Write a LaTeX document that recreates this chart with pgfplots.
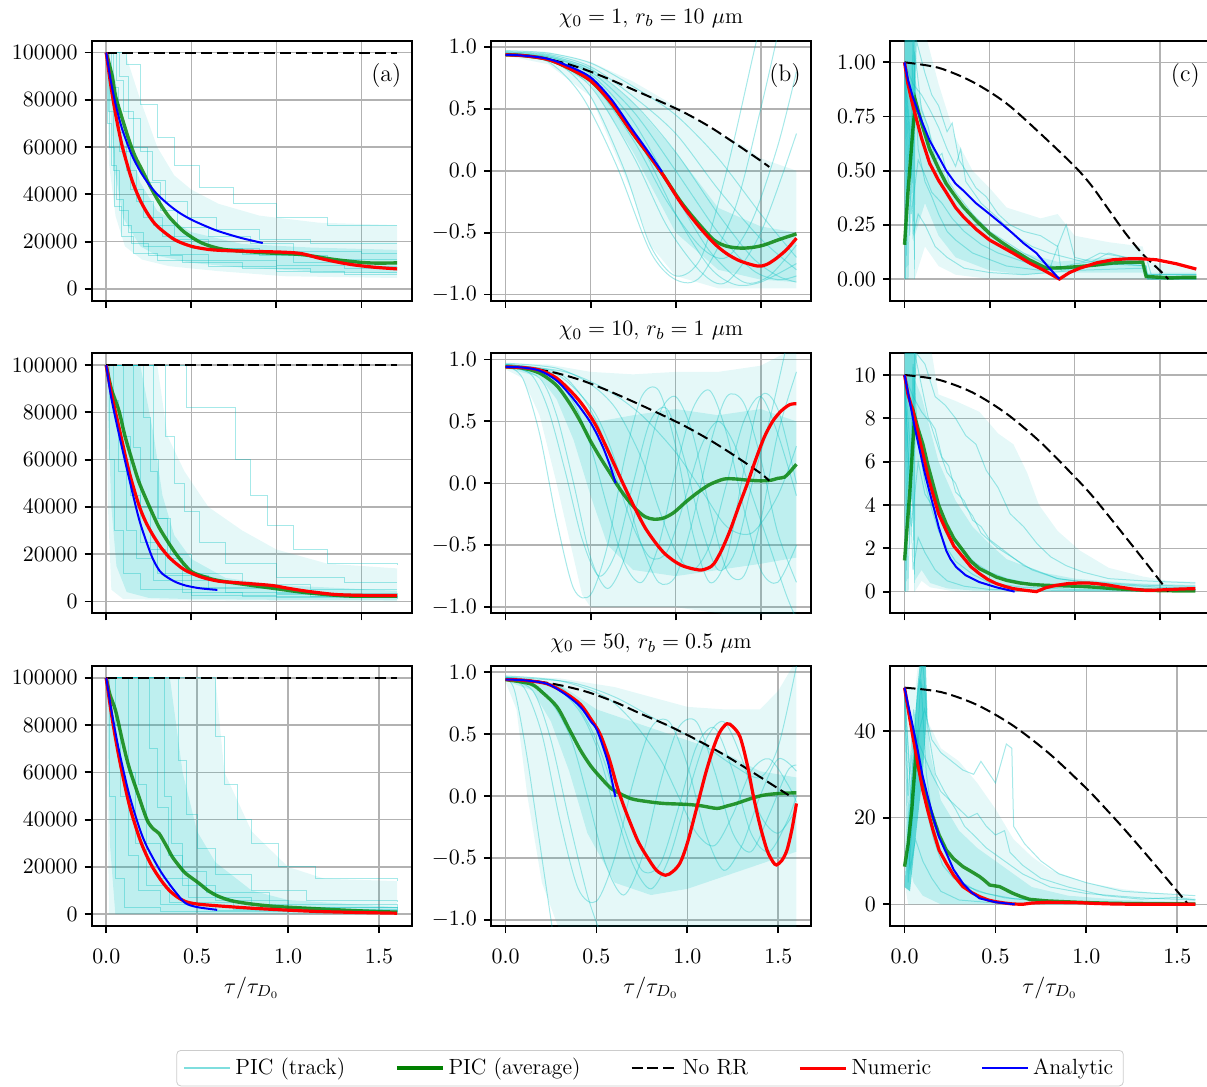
\documentclass[border=0pt]{standalone}
\usepackage{fontspec}
\usepackage{pgfplots}
\pgfplotsset{compat=1.18}
\definecolor{mc}{rgb}{0,0.75,0.75}
\definecolor{mg}{rgb}{0,0.5,0}
\newcommand{\fsz}{\fontsize{11}{13}\selectfont}
\tikzset{plab/.style={anchor=north east, inner sep=0pt, font=\fontsize{12}{14}\selectfont}}
\pgfplotsset{
  base/.style={scale only axis, width=160pt, height=130pt, anchor=north west,
    grid=major, major grid style={line width=0.8pt, draw=black!30},
    axis line style={line width=0.9pt}, tick style={line width=0.9pt, black},
    tick align=outside, tick pos=left, major tick length=3.5pt,
    xtick={0,0.5,1,1.5},
    tick label style={font=\fsz}, label style={font=\fsz},
    title style={font=\fsz, yshift=-3pt}},
  rowAB/.style={xmin=-0.0855, xmax=1.7955, xticklabels={}},
  rowC/.style={xmin=-0.08, xmax=1.68, xticklabel shift=4.5pt,
    xticklabel style={/pgf/number format/.cd,fixed,fixed zerofill,precision=1},
    xlabel={$\tau/\tau_{D_0}$}},
  colA/.style={ymin=-5000, ymax=105000, ytick={0,20000,40000,60000,80000,100000},
    scaled y ticks=false, yticklabel style={/pgf/number format/.cd,fixed,1000 sep={}}},
  colB/.style={ymin=-1.05, ymax=1.05, ytick={-1,-0.5,0,0.5,1},
    yticklabel style={/pgf/number format/.cd,fixed,fixed zerofill,precision=1}},
  trk/.style={mc, opacity=0.35, line width=0.5pt, forget plot},
  bandO/.style={fill=mc, draw=none, opacity=0.10, forget plot},
  bandI/.style={fill=mc, draw=none, opacity=0.17, forget plot},
  spk/.style={fill=mc, draw=none, opacity=0.55, forget plot},
  avg/.style={mg, opacity=0.8, line width=1.7pt, forget plot},
  norr/.style={black, line width=1pt, dash pattern=on 5.5pt off 2.4pt, forget plot},
  num/.style={red, line width=1.6pt, forget plot},
  ana/.style={blue, line width=1pt, forget plot},
}
\begin{document}
\begin{tikzpicture}
\useasboundingbox (0,0) rectangle (603.5pt,-543.5pt);

%================ Row 1 Col 1 ================
\begin{axis}[base, rowAB, colA, at={(45.85pt,-20.35pt)}]
\addplot[bandO] coordinates {(0,100000)(0.11,100000)(0.2,80000)(0.3,60000)(0.4,48000)(0.5,42000)(0.66,36000)(0.9,31000)(1.25,28000)(1.71,27000)(1.71,4600)(1.05,5350)(0.66,7500)(0.37,9600)(0.21,12400)(0.11,18000)(0.055,30700)(0.016,53000)} -- cycle;
\addplot[bandI] coordinates {(0,100000)(0.05,90000)(0.1,70000)(0.2,45000)(0.3,33000)(0.5,24000)(0.8,19000)(1.2,17500)(1.71,16500)(1.71,6500)(1.2,7500)(0.8,9000)(0.5,11000)(0.3,14000)(0.2,18000)(0.1,30000)(0.05,50000)} -- cycle;
\addplot[trk, const plot] coordinates {(0,100000)(0.01,70000)(0.03,52000)(0.06,38000)(0.1,27000)(0.15,19000)(0.25,14000)(0.45,11000)(0.8,8500)(1.2,7000)(1.71,7000)};
\addplot[trk, const plot] coordinates {(0,100000)(0.03,85000)(0.07,66000)(0.12,50000)(0.18,37000)(0.28,27000)(0.4,21000)(0.6,17000)(0.9,14000)(1.3,12500)(1.71,12500)};
\addplot[trk, const plot] coordinates {(0,100000)(0.08,90000)(0.13,72000)(0.2,58000)(0.27,46000)(0.35,37000)(0.48,30000)(0.65,25000)(0.9,21000)(1.2,19000)(1.71,19000)};
\addplot[trk, const plot] coordinates {(0,100000)(0.02,60000)(0.05,35000)(0.09,22000)(0.16,15000)(0.3,12000)(0.6,9500)(1.0,7500)(1.4,6000)(1.71,6000)};
\addplot[trk, const plot] coordinates {(0,100000)(0.12,95000)(0.2,78000)(0.3,64000)(0.4,52000)(0.55,43000)(0.75,36000)(1.0,30000)(1.3,27000)(1.71,27000)};
\addplot[trk, const plot] coordinates {(0,100000)(0.04,78000)(0.08,58000)(0.14,42000)(0.22,30000)(0.33,22000)(0.5,17000)(0.8,14500)(1.1,11000)(1.5,9500)(1.71,9500)};
\addplot[trk, const plot] coordinates {(0,100000)(0.06,88000)(0.1,75000)(0.16,60000)(0.24,45000)(0.32,33000)(0.42,26000)(0.6,22000)(0.85,19000)(1.1,16000)(1.5,15000)(1.71,15000)};
\addplot[trk, const plot] coordinates {(0,100000)(0.015,75000)(0.04,50000)(0.08,33000)(0.13,24000)(0.22,18000)(0.38,14500)(0.6,12000)(1.0,10000)(1.4,8500)(1.71,8500)};
\addplot[avg, smooth] coordinates {(0,100000)(0.035,90000)(0.055,81400)(0.09,73000)(0.133,63100)(0.17,56000)(0.21,50400)(0.25,44500)(0.29,39200)(0.33,34500)(0.367,30700)(0.415,27000)(0.465,23700)(0.5625,19400)(0.7,16600)(0.953,15200)(1.15,14500)(1.344,12400)(1.54,11000)(1.71,11000)};
\addplot[norr] coordinates {(0,100000)(1.71,100000)};
\addplot[num, smooth] coordinates {(0,100000)(0.025,86950)(0.05,75900)(0.075,66550)(0.1,58640)(0.15,46270)(0.2,37400)(0.25,31060)(0.3,26500)(0.4,20900)(0.5,18030)(0.6,16700)(0.7,16200)(0.855,15900)(1.05,15500)(1.15,14900)(1.246,13100)(1.34,11600)(1.44,10300)(1.57,9200)(1.71,8450)};
\addplot[ana, smooth] coordinates {(0,100000)(0.025,88700)(0.05,79700)(0.075,72300)(0.1,66200)(0.15,56700)(0.2,49700)(0.25,44300)(0.3,40000)(0.367,35600)(0.43,32200)(0.5,29300)(0.58,26700)(0.66,24400)(0.79,21600)(0.92,19400)};
\node[plab] at (rel axis cs:0.969,0.915) {(a)};
\end{axis}

%================ Row 1 Col 2 ================
\begin{axis}[base, rowAB, colB, at={(245.5pt,-20.35pt)}, title={$\chi_0 = 1$, $r_b = 10\ \mu$m}]
\addplot[bandO] coordinates {(0,0.97)(0.25,0.96)(0.5,0.88)(0.75,0.72)(1.0,0.52)(1.25,0.3)(1.4,0.2)(1.5,0.1)(1.71,0.0)(1.71,-0.95)(1.5,-0.95)(1.25,-0.95)(1.0,-0.85)(0.85,-0.6)(0.75,-0.2)(0.5,0.6)(0.25,0.86)(0,0.93)} -- cycle;
\addplot[bandI] coordinates {(0,0.96)(0.25,0.94)(0.5,0.84)(0.75,0.55)(1.0,0.15)(1.25,-0.3)(1.5,-0.45)(1.71,-0.5)(1.71,-0.9)(1.5,-0.88)(1.25,-0.8)(1.0,-0.5)(0.75,0.15)(0.5,0.7)(0.25,0.9)(0,0.94)} -- cycle;
\addplot[trk, smooth] coordinates {(0,0.95)(0.25,0.88)(0.45,0.6)(0.65,0.05)(0.85,-0.65)(1.0,-0.88)(1.15,-0.85)(1.35,-0.3)(1.5,0.5)(1.6,1.1)};
\addplot[trk, smooth] coordinates {(0,0.94)(0.25,0.9)(0.5,0.68)(0.75,0.12)(0.95,-0.45)(1.15,-0.82)(1.3,-0.9)(1.5,-0.5)(1.71,0.3)};
\addplot[trk, smooth] coordinates {(0,0.95)(0.25,0.92)(0.5,0.78)(0.75,0.4)(1.0,-0.2)(1.2,-0.65)(1.4,-0.9)(1.55,-0.85)(1.71,-0.6)};
\addplot[trk, smooth] coordinates {(0,0.96)(0.25,0.93)(0.5,0.82)(0.75,0.55)(1.0,0.15)(1.25,-0.35)(1.45,-0.7)(1.6,-0.85)(1.71,-0.9)};
\addplot[trk, smooth] coordinates {(0,0.97)(0.25,0.95)(0.5,0.87)(0.75,0.68)(1.0,0.45)(1.25,0.1)(1.5,-0.35)(1.71,-0.7)};
\addplot[trk, smooth] coordinates {(0,0.93)(0.25,0.89)(0.5,0.72)(0.75,0.25)(0.95,-0.25)(1.15,-0.62)(1.3,-0.7)(1.45,-0.4)(1.6,0.2)(1.71,0.8)};
\addplot[trk, smooth] coordinates {(0,0.95)(0.25,0.91)(0.5,0.75)(0.75,0.33)(1.0,-0.35)(1.2,-0.78)(1.35,-0.92)(1.5,-0.9)(1.71,-0.75)};
\addplot[trk, smooth] coordinates {(0,0.94)(0.25,0.92)(0.5,0.8)(0.75,0.48)(1.0,0.0)(1.25,-0.5)(1.45,-0.8)(1.6,-0.88)(1.71,-0.85)};
\addplot[trk, smooth] coordinates {(0,0.95)(0.3,0.87)(0.5,0.6)(0.7,0.0)(0.85,-0.6)(1.0,-0.85)(1.15,-0.7)(1.3,0.0)(1.45,0.9)(1.5,1.2)};
\addplot[trk, smooth] coordinates {(0,0.96)(0.25,0.94)(0.5,0.84)(0.75,0.6)(1.0,0.3)(1.25,-0.15)(1.5,-0.55)(1.71,-0.8)};
\addplot[avg, smooth] coordinates {(0,0.936)(0.1,0.93)(0.245,0.90)(0.37,0.83)(0.5,0.727)(0.62,0.55)(0.735,0.325)(0.83,0.15)(0.92,-0.023)(1.03,-0.25)(1.13,-0.42)(1.225,-0.56)(1.3,-0.61)(1.38,-0.625)(1.45,-0.62)(1.52,-0.6)(1.6,-0.56)(1.71,-0.51)};
\addplot[norr, smooth] coordinates {(0,0.936)(0.15,0.925)(0.3,0.886)(0.45,0.825)(0.6,0.745)(0.75,0.655)(0.9,0.565)(1.05,0.47)(1.2,0.355)(1.35,0.22)(1.5,0.08)(1.55,0.03)};
\addplot[num, smooth] coordinates {(0,0.936)(0.1,0.93)(0.245,0.90)(0.37,0.83)(0.5,0.727)(0.62,0.55)(0.735,0.325)(0.83,0.15)(0.92,-0.023)(1.03,-0.26)(1.13,-0.44)(1.225,-0.585)(1.3,-0.67)(1.38,-0.73)(1.48,-0.77)(1.53,-0.76)(1.58,-0.72)(1.65,-0.64)(1.71,-0.545)};
\addplot[ana, smooth] coordinates {(0,0.936)(0.1,0.93)(0.245,0.905)(0.37,0.845)(0.5,0.754)(0.62,0.58)(0.735,0.352)(0.83,0.17)(0.92,-0.01)};
\node[plab] at (rel axis cs:0.969,0.915) {(b)};
\end{axis}

%================ Row 1 Col 3 ================
\begin{axis}[base, rowAB, at={(445pt,-20.35pt)}, ymin=-0.1, ymax=1.1, ytick={0,0.25,0.5,0.75,1},
  yticklabel style={/pgf/number format/.cd,fixed,fixed zerofill,precision=2}]
\addplot[bandO] coordinates {(0,1.2)(0.1,1.2)(0.2,0.9)(0.3,0.65)(0.4,0.5)(0.5,0.42)(0.6,0.33)(0.8,0.28)(0.9,0.3)(1.0,0.2)(1.2,0.17)(1.4,0.15)(1.42,0.08)(1.715,0.05)(1.715,0.0)(0.5,0.0)(0.3,0.02)(0.2,0.06)(0.12,0.15)(0.06,0.0)(0,0.0)} -- cycle;
\addplot[bandI] coordinates {(0.04,1.0)(0.1,0.8)(0.2,0.55)(0.3,0.38)(0.4,0.28)(0.5,0.2)(0.7,0.12)(0.9,0.08)(1.2,0.1)(1.4,0.1)(1.42,0.03)(1.715,0.03)(1.715,0.0)(1.42,0.0)(1.4,0.03)(0.9,0.03)(0.7,0.02)(0.5,0.04)(0.3,0.1)(0.2,0.2)(0.12,0.35)(0.06,0.2)} -- cycle;
\addplot[spk] coordinates {(0,0)(0,1.2)(0.065,1.2)(0.06,0.0)(0.045,0.45)(0.025,0.55)(0.01,0.0)} -- cycle;
\addplot[trk] coordinates {(0,1)(0.03,0.2)(0.06,1.05)(0.1,0.78)(0.14,0.7)(0.18,0.55)(0.22,0.58)(0.26,0.45)(0.3,0.4)(0.35,0.35)(0.4,0.3)(0.45,0.26)(0.5,0.22)(0.6,0.17)(0.7,0.12)(0.8,0.08)(0.9,0.05)(1.0,0.07)(1.2,0.09)(1.4,0.08)(1.42,0.01)(1.715,0.01)};
\addplot[trk] coordinates {(0,1)(0.02,0.0)(0.05,1.1)(0.08,0.6)(0.12,0.45)(0.16,0.38)(0.2,0.3)(0.25,0.22)(0.3,0.18)(0.4,0.12)(0.5,0.09)(0.6,0.06)(0.8,0.04)(1.0,0.05)(1.2,0.07)(1.42,0.06)(1.43,0.0)(1.715,0.0)};
\addplot[trk] coordinates {(0,1)(0.04,0.5)(0.07,1.1)(0.12,0.95)(0.16,0.85)(0.2,0.8)(0.25,0.68)(0.28,0.72)(0.32,0.55)(0.36,0.5)(0.42,0.42)(0.48,0.38)(0.55,0.3)(0.62,0.25)(0.7,0.22)(0.8,0.2)(0.9,0.15)(0.95,0.25)(1.0,0.1)(1.1,0.08)(1.2,0.12)(1.3,0.1)(1.4,0.09)(1.42,0.02)(1.715,0.02)};
\addplot[trk] coordinates {(0,1)(0.03,0.7)(0.05,0.2)(0.08,0.3)(0.12,0.25)(0.18,0.15)(0.25,0.1)(0.35,0.05)(0.5,0.03)(0.7,0.02)(1.0,0.04)(1.4,0.05)(1.45,0.0)(1.715,0.0)};
\addplot[trk] coordinates {(0,1)(0.05,0.9)(0.1,0.85)(0.15,0.78)(0.2,0.7)(0.25,0.6)(0.3,0.52)(0.33,0.6)(0.36,0.45)(0.45,0.35)(0.55,0.28)(0.65,0.2)(0.75,0.15)(0.85,0.12)(0.95,0.1)(1.05,0.08)(1.15,0.12)(1.3,0.1)(1.42,0.1)(1.45,0.02)(1.715,0.02)};
\addplot[trk] coordinates {(0,1)(0.04,0.3)(0.08,0.55)(0.12,0.48)(0.16,0.4)(0.22,0.35)(0.28,0.28)(0.35,0.22)(0.45,0.16)(0.55,0.12)(0.7,0.08)(0.85,0.04)(0.9,0.15)(0.92,0.04)(1.1,0.06)(1.3,0.07)(1.42,0.06)(1.43,0.0)(1.715,0.01)};
\addplot[avg] coordinates {(0,0.158)(0.02,0.4)(0.049,0.69)(0.065,0.82)(0.1,0.72)(0.147,0.60)(0.2,0.51)(0.245,0.44)(0.3,0.38)(0.343,0.335)(0.42,0.27)(0.5,0.21)(0.57,0.17)(0.637,0.135)(0.73,0.09)(0.833,0.05)(0.93,0.052)(1.03,0.058)(1.13,0.065)(1.225,0.074)(1.32,0.077)(1.40,0.078)(1.42,0.012)(1.5,0.008)(1.56,0.005)(1.65,0.008)(1.715,0.008)};
\addplot[norr, smooth] coordinates {(0,1)(0.2,0.975)(0.4,0.91)(0.6,0.81)(0.8,0.67)(1.0,0.52)(1.1,0.43)(1.2,0.32)(1.3,0.21)(1.4,0.115)(1.5,0.04)(1.55,0.0)};
\addplot[num] coordinates {(0,1)(0.02,0.9)(0.049,0.80)(0.1,0.65)(0.147,0.535)(0.2,0.455)(0.245,0.40)(0.3,0.33)(0.343,0.29)(0.42,0.23)(0.5,0.18)(0.637,0.12)(0.735,0.074)(0.82,0.04)(0.91,0.0)(0.97,0.03)(1.03,0.05)(1.13,0.075)(1.225,0.089)(1.3,0.093)(1.38,0.094)(1.48,0.089)(1.6,0.07)(1.715,0.046)};
\addplot[ana] coordinates {(0,1)(0.02,0.92)(0.049,0.84)(0.1,0.73)(0.147,0.64)(0.2,0.565)(0.245,0.50)(0.3,0.44)(0.343,0.41)(0.42,0.35)(0.5,0.30)(0.57,0.255)(0.637,0.21)(0.7,0.165)(0.775,0.12)(0.84,0.06)(0.91,0.0)};
\node[plab] at (rel axis cs:0.969,0.915) {(c)};
\end{axis}

%================ Row 2 Col 1 ================
\begin{axis}[base, rowAB, colA, at={(45.85pt,-176.65pt)}]
\addplot[bandO] coordinates {(0,100000)(0.3,100000)(0.36,70000)(0.46,55000)(0.6,40000)(0.8,30000)(1.0,22000)(1.3,16000)(1.71,14000)(1.71,0)(0.5,500)(0.1,1000)(0.03,5000)(0.01,40000)} -- cycle;
\addplot[bandI] coordinates {(0,100000)(0.2,100000)(0.28,70000)(0.33,45000)(0.4,28000)(0.5,18000)(0.7,10000)(1.0,7000)(1.71,4500)(1.71,500)(1.0,700)(0.5,1000)(0.25,1500)(0.12,4000)(0.06,15000)(0.03,40000)(0.01,80000)} -- cycle;
\addplot[trk, const plot] coordinates {(0,100000)(0.02,60000)(0.05,30000)(0.1,12000)(0.2,5000)(0.5,2500)(1.0,1500)(1.71,1500)};
\addplot[trk, const plot] coordinates {(0,100000)(0.08,100000)(0.1,70000)(0.14,45000)(0.2,25000)(0.3,12000)(0.5,6000)(1.0,3000)(1.71,2500)};
\addplot[trk, const plot] coordinates {(0,100000)(0.2,100000)(0.22,78000)(0.26,55000)(0.3,35000)(0.38,20000)(0.5,12000)(0.8,7000)(1.2,5000)(1.71,5000)};
\addplot[trk, const plot] coordinates {(0,100000)(0.33,100000)(0.35,70000)(0.4,50000)(0.46,38000)(0.55,25000)(0.7,16000)(1.0,10000)(1.4,8000)(1.71,8000)};
\addplot[trk, const plot] coordinates {(0,100000)(0.46,100000)(0.47,82000)(0.74,82000)(0.76,60000)(0.85,45000)(0.95,32000)(1.1,22000)(1.3,16000)(1.71,15500)};
\addplot[trk, const plot] coordinates {(0,100000)(0.04,85000)(0.07,55000)(0.12,30000)(0.18,18000)(0.28,9000)(0.45,4000)(0.8,2000)(1.71,1200)};
\addplot[trk, const plot] coordinates {(0,100000)(0.14,100000)(0.16,65000)(0.2,40000)(0.26,22000)(0.35,11000)(0.6,5500)(1.0,3500)(1.71,3000)};
\addplot[trk, const plot] coordinates {(0,100000)(0.26,100000)(0.28,60000)(0.31,35000)(0.36,18000)(0.45,9000)(0.7,4000)(1.2,2000)(1.71,1800)};
\addplot[avg, smooth] coordinates {(0,100000)(0.03,90000)(0.075,80600)(0.11,70000)(0.153,59500)(0.19,51000)(0.23,44000)(0.27,37500)(0.31,31400)(0.36,25500)(0.41,20100)(0.46,15600)(0.506,12400)(0.58,10400)(0.66,8860)(0.86,6750)(1.0,5400)(1.15,3940)(1.3,2900)(1.45,2250)(1.71,2250)};
\addplot[norr] coordinates {(0,100000)(1.71,100000)};
\addplot[num, smooth] coordinates {(0,100000)(0.03,88000)(0.075,73600)(0.133,55300)(0.19,41200)(0.23,34000)(0.27,28600)(0.32,23000)(0.37,18700)(0.42,15500)(0.467,13100)(0.56,10300)(0.66,8600)(0.76,8000)(0.86,7450)(0.976,6750)(1.06,5700)(1.15,4640)(1.25,3700)(1.35,2950)(1.5,2600)(1.71,2530)};
\addplot[ana, smooth] coordinates {(0,100000)(0.03,86000)(0.075,70700)(0.133,52500)(0.19,35600)(0.23,26500)(0.27,18700)(0.3,14500)(0.33,11700)(0.4,8500)(0.467,6750)(0.55,5600)(0.653,4900)};
\end{axis}

%================ Row 2 Col 2 ================
\begin{axis}[base, rowAB, colB, at={(245.5pt,-176.65pt)}, title={$\chi_0 = 10$, $r_b = 1\ \mu$m}]
\addplot[bandO] coordinates {(0,0.97)(0.25,0.96)(0.5,0.9)(0.75,0.88)(1.0,0.9)(1.25,0.9)(1.5,0.95)(1.71,1.1)(1.71,-1.1)(1.5,-1.1)(1.0,-1.0)(0.5,-1.0)(0.45,-0.9)(0.4,-0.6)(0.3,0.0)(0.2,0.55)(0.1,0.85)(0,0.92)} -- cycle;
\addplot[bandI] coordinates {(0,0.96)(0.25,0.92)(0.4,0.72)(0.55,0.5)(0.75,0.55)(1.0,0.6)(1.25,0.55)(1.5,0.6)(1.71,0.5)(1.71,-0.6)(1.5,-0.65)(1.25,-0.7)(1.0,-0.75)(0.75,-0.7)(0.6,-0.5)(0.5,-0.1)(0.4,0.35)(0.3,0.68)(0.2,0.86)(0,0.93)} -- cycle;
\addplot[trk, smooth] coordinates {(0,0.95)(0.1,0.85)(0.2,0.4)(0.3,-0.3)(0.4,-0.85)(0.5,-0.9)(0.6,-0.5)(0.7,0.2)(0.8,0.7)(0.9,0.75)(1.0,0.3)(1.1,-0.4)(1.2,-0.8)(1.3,-0.6)(1.4,0.1)(1.5,0.7)(1.6,0.6)(1.71,0.0)};
\addplot[trk, smooth] coordinates {(0,0.95)(0.2,0.85)(0.3,0.55)(0.4,0.0)(0.5,-0.6)(0.6,-0.85)(0.7,-0.6)(0.8,0.0)(0.9,0.55)(1.0,0.7)(1.1,0.4)(1.2,-0.2)(1.3,-0.7)(1.4,-0.75)(1.5,-0.3)(1.6,0.4)(1.71,0.9)};
\addplot[trk, smooth] coordinates {(0,0.96)(0.25,0.9)(0.4,0.65)(0.5,0.3)(0.6,-0.2)(0.7,-0.65)(0.8,-0.8)(0.9,-0.5)(1.0,0.1)(1.1,0.6)(1.2,0.75)(1.3,0.4)(1.4,-0.2)(1.5,-0.7)(1.6,-0.8)(1.71,-0.5)};
\addplot[trk, smooth] coordinates {(0,0.96)(0.3,0.88)(0.5,0.62)(0.6,0.35)(0.7,-0.05)(0.8,-0.5)(0.9,-0.8)(1.0,-0.75)(1.1,-0.3)(1.2,0.3)(1.3,0.7)(1.4,0.65)(1.5,0.2)(1.6,-0.4)(1.71,-0.8)};
\addplot[trk, smooth] coordinates {(0,0.97)(0.3,0.93)(0.5,0.8)(0.65,0.6)(0.8,0.2)(0.9,-0.2)(1.0,-0.55)(1.1,-0.7)(1.2,-0.5)(1.3,0.0)(1.4,0.5)(1.5,0.7)(1.6,0.4)(1.71,-0.1)};
\addplot[trk, smooth] coordinates {(0,0.95)(0.15,0.88)(0.25,0.6)(0.35,0.1)(0.45,-0.45)(0.55,-0.75)(0.65,-0.55)(0.75,0.0)(0.85,0.5)(0.95,0.6)(1.05,0.2)(1.15,-0.35)(1.25,-0.7)(1.35,-0.55)(1.45,0.0)(1.55,0.5)(1.65,1.1)};
\addplot[trk, smooth] coordinates {(0,0.96)(0.3,0.9)(0.45,0.7)(0.55,0.45)(0.65,0.05)(0.75,-0.35)(0.85,-0.6)(0.95,-0.55)(1.05,-0.15)(1.15,0.3)(1.25,0.5)(1.35,0.3)(1.45,-0.1)(1.55,-0.5)(1.65,-0.9)(1.71,-1.1)};
\addplot[trk, smooth] coordinates {(0,0.96)(0.35,0.9)(0.6,0.75)(0.8,0.55)(1.0,0.25)(1.15,-0.05)(1.3,-0.35)(1.45,-0.4)(1.6,-0.1)(1.71,0.3)};
\addplot[avg, smooth] coordinates {(0,0.94)(0.1,0.93)(0.2,0.89)(0.3,0.79)(0.38,0.64)(0.44,0.5)(0.5,0.34)(0.56,0.2)(0.62,0.07)(0.65,0.0)(0.7,-0.1)(0.76,-0.2)(0.82,-0.27)(0.873,-0.29)(0.93,-0.28)(0.99,-0.235)(1.06,-0.15)(1.13,-0.074)(1.2,-0.01)(1.284,0.034)(1.35,0.035)(1.42,0.026)(1.5,0.02)(1.56,0.025)(1.6,0.04)(1.64,0.05)(1.67,0.09)(1.71,0.154)};
\addplot[norr, smooth] coordinates {(0,0.94)(0.15,0.928)(0.3,0.89)(0.45,0.83)(0.6,0.75)(0.75,0.66)(0.9,0.565)(1.05,0.465)(1.2,0.35)(1.35,0.22)(1.5,0.08)(1.55,0.02)};
\addplot[num, smooth] coordinates {(0,0.94)(0.1,0.935)(0.2,0.915)(0.3,0.85)(0.4,0.72)(0.46,0.62)(0.53,0.47)(0.6,0.27)(0.69,0.0)(0.76,-0.2)(0.83,-0.38)(0.93,-0.56)(1.03,-0.66)(1.137,-0.70)(1.19,-0.685)(1.225,-0.65)(1.27,-0.54)(1.32,-0.38)(1.37,-0.19)(1.42,-0.007)(1.47,0.19)(1.52,0.37)(1.57,0.5)(1.62,0.584)(1.67,0.635)(1.71,0.643)};
\addplot[ana, smooth] coordinates {(0,0.94)(0.1,0.935)(0.2,0.91)(0.3,0.83)(0.4,0.68)(0.5,0.49)(0.57,0.3)(0.62,0.12)(0.647,0.0)};
\end{axis}

%================ Row 2 Col 3 ================
\begin{axis}[base, rowAB, at={(445pt,-176.65pt)}, ymin=-1, ymax=11, ytick={0,2,4,6,8,10}]
\addplot[bandO] coordinates {(0.06,11.5)(0.15,11.5)(0.2,9.1)(0.3,8.8)(0.44,8.3)(0.55,7.3)(0.64,6.8)(0.72,5.5)(0.79,4.0)(0.9,2.8)(1.03,1.9)(1.2,1.1)(1.4,0.7)(1.55,0.5)(1.71,0.45)(1.71,0)(0.3,0)(0.15,0.2)(0.1,0.5)(0.06,0)} -- cycle;
\addplot[bandI] coordinates {(0.05,10)(0.1,9)(0.15,7.5)(0.2,6)(0.3,4.2)(0.4,3)(0.5,2.2)(0.6,1.5)(0.8,0.9)(1.0,0.6)(1.3,0.4)(1.71,0.3)(1.71,0.0)(0.8,0.0)(0.4,0.05)(0.25,0.15)(0.15,0.4)(0.1,1.0)(0.06,0.5)} -- cycle;
\addplot[spk] coordinates {(0,0)(0,11.5)(0.065,11.5)(0.06,0.0)(0.045,4)(0.025,5)(0.01,0)} -- cycle;
\addplot[trk] coordinates {(0,10)(0.03,2)(0.06,11)(0.1,9.5)(0.14,8)(0.18,7.5)(0.22,6.2)(0.26,5.8)(0.3,4.6)(0.35,4.2)(0.4,3.3)(0.45,3.0)(0.5,2.4)(0.6,1.8)(0.7,1.2)(0.8,0.9)(0.9,0.6)(1.0,0.5)(1.2,0.4)(1.4,0.3)(1.71,0.25)};
\addplot[trk] coordinates {(0,10)(0.02,0)(0.05,10.5)(0.08,7)(0.12,5)(0.16,3.8)(0.2,2.8)(0.25,2.0)(0.3,1.4)(0.4,0.8)(0.5,0.4)(0.7,0.2)(1.0,0.1)(1.4,0.1)(1.71,0.1)};
\addplot[trk] coordinates {(0,10)(0.04,6)(0.07,11)(0.12,10.5)(0.18,9.0)(0.24,8.6)(0.3,8.0)(0.36,7.2)(0.42,6.8)(0.48,5.6)(0.55,4.8)(0.62,3.6)(0.7,3.0)(0.78,2.2)(0.86,1.6)(0.95,1.2)(1.05,0.9)(1.2,0.6)(1.4,0.5)(1.55,0.45)(1.71,0.4)};
\addplot[trk] coordinates {(0,10)(0.03,5)(0.05,1)(0.08,2.5)(0.12,1.8)(0.18,1.0)(0.25,0.5)(0.35,0.25)(0.5,0.1)(1.0,0.05)(1.71,0.05)};
\addplot[trk] coordinates {(0,10)(0.05,9)(0.1,8.3)(0.15,7.8)(0.2,6.6)(0.25,5.5)(0.3,5.0)(0.35,4.0)(0.4,3.5)(0.45,2.7)(0.55,2.0)(0.65,1.5)(0.75,1.0)(0.9,0.6)(1.1,0.4)(1.3,0.3)(1.5,0.2)(1.71,0.2)};
\addplot[trk] coordinates {(0,10)(0.04,3)(0.08,6)(0.12,4.5)(0.16,4.0)(0.2,3.5)(0.25,2.6)(0.3,2.3)(0.35,1.8)(0.42,1.3)(0.5,0.9)(0.6,0.6)(0.75,0.35)(0.9,0.25)(1.2,0.15)(1.5,0.1)(1.71,0.1)};
\addplot[avg] coordinates {(0,1.44)(0.03,4.5)(0.059,8.11)(0.08,7.5)(0.108,6.8)(0.135,5.9)(0.167,4.97)(0.2,4.0)(0.245,3.13)(0.29,2.45)(0.343,1.9)(0.39,1.4)(0.44,1.06)(0.54,0.67)(0.6,0.52)(0.676,0.40)(0.75,0.33)(0.833,0.29)(0.93,0.27)(1.03,0.245)(1.13,0.2)(1.225,0.14)(1.32,0.1)(1.42,0.06)(1.55,0.04)(1.71,0.03)};
\addplot[norr, smooth] coordinates {(0,10)(0.2,9.78)(0.4,9.19)(0.6,8.21)(0.8,6.89)(1.0,5.3)(1.1,4.45)(1.2,3.49)(1.3,2.51)(1.4,1.52)(1.5,0.51)(1.55,0.0)};
\addplot[num] coordinates {(0,10)(0.02,9.1)(0.049,8.34)(0.08,7.3)(0.108,6.35)(0.135,5.4)(0.167,4.5)(0.2,3.6)(0.245,2.82)(0.29,2.1)(0.343,1.6)(0.39,1.15)(0.44,0.83)(0.49,0.56)(0.54,0.37)(0.59,0.24)(0.637,0.14)(0.7,0.07)(0.775,0.0)(0.83,0.18)(0.89,0.29)(0.96,0.37)(1.03,0.40)(1.08,0.40)(1.13,0.37)(1.2,0.3)(1.265,0.21)(1.34,0.12)(1.42,0.06)(1.48,0.07)(1.54,0.09)(1.62,0.12)(1.71,0.14)};
\addplot[ana] coordinates {(0,10)(0.03,8.8)(0.059,7.6)(0.09,6.5)(0.118,5.5)(0.147,4.6)(0.176,3.75)(0.2,3.0)(0.22,2.5)(0.245,1.9)(0.27,1.5)(0.304,1.13)(0.36,0.75)(0.44,0.44)(0.54,0.2)(0.647,0.0)};
\end{axis}

%================ Row 3 Col 1 ================
\begin{axis}[base, rowC, colA, at={(45.85pt,-333pt)}]
\addplot[bandO] coordinates {(0,100000)(0.6,100000)(0.65,60000)(0.8,35000)(1.0,20000)(1.2,15000)(1.6,14000)(1.6,0)(0.015,0)} -- cycle;
\addplot[bandI] coordinates {(0,100000)(0.35,100000)(0.42,60000)(0.5,35000)(0.6,22000)(0.8,10000)(1.0,6000)(1.6,3000)(1.6,0)(0.05,0)(0.02,30000)(0.005,90000)} -- cycle;
\addplot[trk, const plot] coordinates {(0,100000)(0.02,50000)(0.05,15000)(0.1,3000)(0.3,1000)(1.6,500)};
\addplot[trk, const plot] coordinates {(0,100000)(0.1,100000)(0.12,60000)(0.16,30000)(0.22,12000)(0.35,5000)(0.7,2000)(1.6,1000)};
\addplot[trk, const plot] coordinates {(0,100000)(0.22,100000)(0.24,70000)(0.28,45000)(0.34,25000)(0.42,12000)(0.6,6000)(1.0,3000)(1.6,2000)};
\addplot[trk, const plot] coordinates {(0,100000)(0.38,100000)(0.4,65000)(0.44,42000)(0.5,28000)(0.6,17000)(0.8,10000)(1.1,6000)(1.6,5000)};
\addplot[trk, const plot] coordinates {(0,100000)(0.58,100000)(0.6,75000)(0.65,55000)(0.72,40000)(0.8,30000)(0.95,20000)(1.15,15000)(1.6,14000)};
\addplot[trk, const plot] coordinates {(0,100000)(0.05,80000)(0.08,50000)(0.12,25000)(0.18,10000)(0.3,4000)(0.6,1500)(1.6,800)};
\addplot[trk, const plot] coordinates {(0,100000)(0.16,100000)(0.18,55000)(0.22,30000)(0.3,15000)(0.45,7000)(0.8,3000)(1.6,1500)};
\addplot[trk, const plot] coordinates {(0,100000)(0.3,100000)(0.32,50000)(0.36,30000)(0.42,18000)(0.55,9000)(0.9,4000)(1.6,2500)};
\addplot[avg, smooth] coordinates {(0,100000)(0.02,93000)(0.051,86200)(0.09,73000)(0.125,62300)(0.18,49600)(0.225,39800)(0.26,36000)(0.29,34200)(0.33,29000)(0.363,24300)(0.4,20500)(0.436,17300)(0.51,13100)(0.56,10000)(0.62,7450)(0.71,5340)(0.894,3500)(1.17,2250)(1.4,1400)(1.6,840)};
\addplot[norr] coordinates {(0,100000)(1.6,100000)};
\addplot[num, smooth] coordinates {(0,100000)(0.03,84000)(0.07,66500)(0.125,46800)(0.18,32800)(0.215,26000)(0.253,20100)(0.3,14500)(0.344,10300)(0.39,7300)(0.436,5340)(0.5,4300)(0.62,3500)(0.8,2530)(1.0,1700)(1.17,1130)(1.4,700)(1.6,420)};
\addplot[ana, smooth] coordinates {(0,100000)(0.03,85500)(0.07,69300)(0.125,51000)(0.18,37000)(0.215,30000)(0.253,24300)(0.3,18000)(0.344,13100)(0.39,8500)(0.436,4640)(0.5,3000)(0.61,1830)};
\end{axis}

%================ Row 3 Col 2 ================
\begin{axis}[base, rowC, colB, at={(245.5pt,-333pt)}, title={$\chi_0 = 50$, $r_b = 0.5\ \mu$m},
  legend columns=5,
  legend image code/.code={\draw[#1] (0pt,0pt) -- (23pt,0pt);},
  legend style={at={(0.497,-0.477)}, anchor=north, font=\fsz, draw=black!20, rounded corners=2pt,
    fill=white, inner xsep=3pt, inner ysep=2pt,
    /tikz/every even column/.append style={column sep=23pt}}]
\addlegendimage{mc, opacity=0.5, line width=1.3pt}\addlegendentry{PIC (track)}
\addlegendimage{mg, line width=1.7pt}\addlegendentry{PIC (average)}
\addlegendimage{black, line width=1pt, dash pattern=on 5.5pt off 2.4pt}\addlegendentry{No RR}
\addlegendimage{red, line width=1.6pt}\addlegendentry{Numeric}
\addlegendimage{blue, line width=1pt}\addlegendentry{Analytic}
\addplot[bandO] coordinates {(0,0.97)(0.3,0.95)(0.6,0.88)(0.8,0.8)(1.0,0.72)(1.2,0.7)(1.4,0.7)(1.5,0.85)(1.6,1.1)(1.6,-1.1)(0.3,-1.1)(0.2,-0.7)(0.12,0.0)(0.06,0.7)(0,0.92)} -- cycle;
\addplot[bandI] coordinates {(0,0.96)(0.3,0.9)(0.5,0.7)(0.8,0.55)(1.0,0.45)(1.2,0.35)(1.4,0.2)(1.6,0.15)(1.6,-0.45)(1.4,-0.55)(1.2,-0.65)(1.0,-0.75)(0.8,-0.8)(0.6,-0.7)(0.45,-0.3)(0.35,0.2)(0.25,0.6)(0.15,0.85)(0,0.93)} -- cycle;
\addplot[trk, smooth] coordinates {(0,0.95)(0.05,0.85)(0.12,0.3)(0.2,-0.5)(0.26,-1.1)};
\addplot[trk, smooth] coordinates {(0,0.95)(0.1,0.88)(0.2,0.5)(0.3,-0.2)(0.4,-0.75)(0.5,-0.85)(0.6,-0.5)(0.7,0.1)(0.8,0.55)(0.9,0.6)(1.0,0.25)(1.1,-0.3)(1.2,-0.6)(1.3,-0.4)(1.4,0.0)(1.5,0.3)(1.6,0.2)};
\addplot[trk, smooth] coordinates {(0,0.96)(0.2,0.85)(0.35,0.5)(0.45,0.0)(0.55,-0.55)(0.65,-0.8)(0.75,-0.5)(0.85,0.1)(0.95,0.55)(1.05,0.6)(1.15,0.2)(1.25,-0.3)(1.35,-0.45)(1.45,-0.15)(1.55,0.2)(1.6,0.25)};
\addplot[trk, smooth] coordinates {(0,0.96)(0.3,0.88)(0.45,0.6)(0.55,0.25)(0.65,-0.25)(0.75,-0.6)(0.85,-0.55)(0.95,-0.1)(1.05,0.4)(1.15,0.55)(1.25,0.2)(1.35,-0.3)(1.45,-0.45)(1.55,-0.2)(1.6,0.0)};
\addplot[trk, smooth] coordinates {(0,0.97)(0.3,0.93)(0.55,0.8)(0.7,0.6)(0.85,0.3)(0.95,0.0)(1.05,-0.3)(1.15,-0.4)(1.25,-0.15)(1.35,0.2)(1.45,0.3)(1.55,0.1)(1.6,-0.05)};
\addplot[trk, smooth] coordinates {(0,0.95)(0.15,0.85)(0.25,0.45)(0.35,-0.2)(0.45,-0.8)(0.52,-1.1)};
\addplot[trk, smooth] coordinates {(0,0.96)(0.25,0.9)(0.4,0.7)(0.5,0.4)(0.6,-0.1)(0.7,-0.55)(0.8,-0.75)(0.9,-0.5)(1.0,0.0)(1.1,0.45)(1.2,0.6)(1.3,0.3)(1.4,-0.15)(1.5,-0.3)(1.6,-0.1)};
\addplot[trk, smooth] coordinates {(0,0.96)(0.35,0.92)(0.6,0.8)(0.85,0.6)(1.05,0.45)(1.25,0.25)(1.4,0.15)(1.5,0.4)(1.6,1.05)};
\addplot[avg, smooth] coordinates {(0,0.94)(0.137,0.906)(0.2,0.84)(0.284,0.718)(0.35,0.54)(0.412,0.37)(0.47,0.24)(0.52,0.154)(0.56,0.09)(0.595,0.047)(0.687,-0.02)(0.78,-0.045)(0.87,-0.06)(1.0,-0.068)(1.08,-0.08)(1.163,-0.1)(1.22,-0.08)(1.27,-0.06)(1.35,-0.02)(1.42,0.007)(1.5,0.02)(1.6,0.026)};
\addplot[norr, smooth] coordinates {(0,0.94)(0.15,0.93)(0.3,0.895)(0.45,0.84)(0.6,0.76)(0.75,0.66)(0.9,0.565)(1.05,0.455)(1.2,0.335)(1.35,0.2)(1.5,0.06)(1.557,0.007)};
\addplot[num, smooth] coordinates {(0,0.94)(0.1,0.935)(0.229,0.906)(0.33,0.83)(0.412,0.74)(0.47,0.62)(0.52,0.5)(0.57,0.3)(0.614,0.074)(0.65,-0.08)(0.687,-0.22)(0.73,-0.37)(0.778,-0.49)(0.83,-0.6)(0.88,-0.64)(0.92,-0.61)(0.96,-0.54)(1.0,-0.38)(1.053,-0.087)(1.1,0.18)(1.145,0.396)(1.18,0.52)(1.218,0.584)(1.25,0.56)(1.29,0.477)(1.33,0.25)(1.364,-0.007)(1.4,-0.24)(1.438,-0.436)(1.47,-0.53)(1.49,-0.557)(1.52,-0.52)(1.548,-0.436)(1.575,-0.27)(1.6,-0.06)};
\addplot[ana, smooth] coordinates {(0,0.94)(0.1,0.935)(0.229,0.906)(0.33,0.82)(0.412,0.72)(0.47,0.6)(0.504,0.53)(0.56,0.289)(0.58,0.16)(0.604,-0.007)};
\end{axis}

%================ Row 3 Col 3 ================
\begin{axis}[base, rowC, at={(445pt,-333pt)}, ymin=-5, ymax=55, ytick={0,20,40}]
\addplot[bandO] coordinates {(0,50)(0.06,50)(0.08,58)(0.11,58)(0.13,42)(0.2,36)(0.3,33)(0.4,28)(0.5,22)(0.6,15)(0.7,11)(0.8,8)(1.0,5)(1.2,3.5)(1.4,2.5)(1.6,1.5)(1.6,0)(0.1,0)(0.02,0)(0,5)} -- cycle;
\addplot[bandI] coordinates {(0.04,35)(0.08,52)(0.11,50)(0.14,35)(0.2,24)(0.3,17)(0.4,13)(0.5,10)(0.6,7)(0.7,4)(0.9,2)(1.2,1)(1.6,0.5)(1.6,0)(0.2,0)(0.1,2)(0.05,5)(0.02,10)(0,12)} -- cycle;
\addplot[spk] coordinates {(0,4)(0.03,25)(0.07,50)(0.09,58)(0.115,58)(0.125,45)(0.1,30)(0.06,15)(0.03,3)} -- cycle;
\addplot[trk] coordinates {(0,50)(0.03,30)(0.07,48)(0.1,56)(0.13,40)(0.17,30)(0.22,26)(0.28,22)(0.33,18)(0.38,16)(0.45,13)(0.55,10)(0.65,7)(0.8,4)(1.0,2.5)(1.3,1.5)(1.6,1)};
\addplot[trk] coordinates {(0,50)(0.02,5)(0.06,30)(0.09,52)(0.12,30)(0.16,18)(0.2,12)(0.25,8)(0.32,5)(0.4,3)(0.55,1.5)(0.8,0.5)(1.6,0.2)};
\addplot[trk] coordinates {(0,50)(0.04,20)(0.08,40)(0.11,45)(0.15,38)(0.2,35)(0.26,33)(0.32,31)(0.38,30)(0.42,33)(0.5,28)(0.56,37)(0.59,36)(0.6,18)(0.66,14)(0.75,10)(0.85,7)(1.0,5)(1.2,3)(1.4,2.5)(1.6,2)};
\addplot[trk] coordinates {(0,50)(0.03,8)(0.06,15)(0.1,10)(0.15,6)(0.2,3)(0.3,1)(0.5,0.3)(1.6,0.1)};
\addplot[trk] coordinates {(0,50)(0.05,40)(0.1,35)(0.15,30)(0.2,26)(0.25,24)(0.3,22)(0.35,20)(0.4,21)(0.45,18)(0.5,16)(0.55,17)(0.58,12)(0.65,9)(0.75,6)(0.9,4)(1.1,2)(1.3,1.2)(1.5,1.6)(1.6,1)};
\addplot[trk] coordinates {(0,50)(0.02,25)(0.05,45)(0.08,35)(0.12,22)(0.16,15)(0.21,9)(0.27,6)(0.35,4)(0.45,2.5)(0.6,1.3)(0.9,0.6)(1.6,0.3)};
\addplot[avg] coordinates {(0,8.7)(0.02,14)(0.04,22)(0.064,35.6)(0.08,31)(0.1,27.9)(0.13,23.5)(0.156,20.2)(0.19,16)(0.23,12.5)(0.27,10.5)(0.321,8.7)(0.37,7.5)(0.413,6.4)(0.44,5.5)(0.468,4.46)(0.523,4.08)(0.56,3.3)(0.596,2.54)(0.64,1.8)(0.688,1.15)(0.78,0.8)(0.87,0.62)(1.0,0.4)(1.147,0.23)(1.3,0.15)(1.45,0.1)(1.6,0.08)};
\addplot[norr, smooth] coordinates {(0,50)(0.2,48.99)(0.4,46.0)(0.6,41.15)(0.8,34.64)(1.0,26.76)(1.1,22.35)(1.2,17.75)(1.3,12.94)(1.4,8.02)(1.5,3.0)(1.56,0.0)};
\addplot[num] coordinates {(0,50)(0.02,45)(0.046,38.7)(0.075,32)(0.1,26.4)(0.13,21.3)(0.156,17.2)(0.19,12.5)(0.23,9.46)(0.27,6.7)(0.321,4.08)(0.37,2.7)(0.413,1.77)(0.46,1.0)(0.5,0.62)(0.55,0.3)(0.596,0.08)(0.65,0.0)(0.7,0.3)(0.78,0.46)(0.87,0.45)(0.963,0.38)(1.05,0.2)(1.147,0.08)(1.25,0.02)(1.33,0.0)(1.6,0.0)};
\addplot[ana] coordinates {(0,50)(0.02,46)(0.046,41)(0.075,35)(0.1,29.5)(0.13,24.5)(0.156,20.2)(0.19,15.5)(0.23,11.8)(0.27,8.0)(0.321,4.85)(0.37,2.7)(0.413,1.38)(0.5,0.5)(0.606,0.0)};
\end{axis}
\end{tikzpicture}
\end{document}
